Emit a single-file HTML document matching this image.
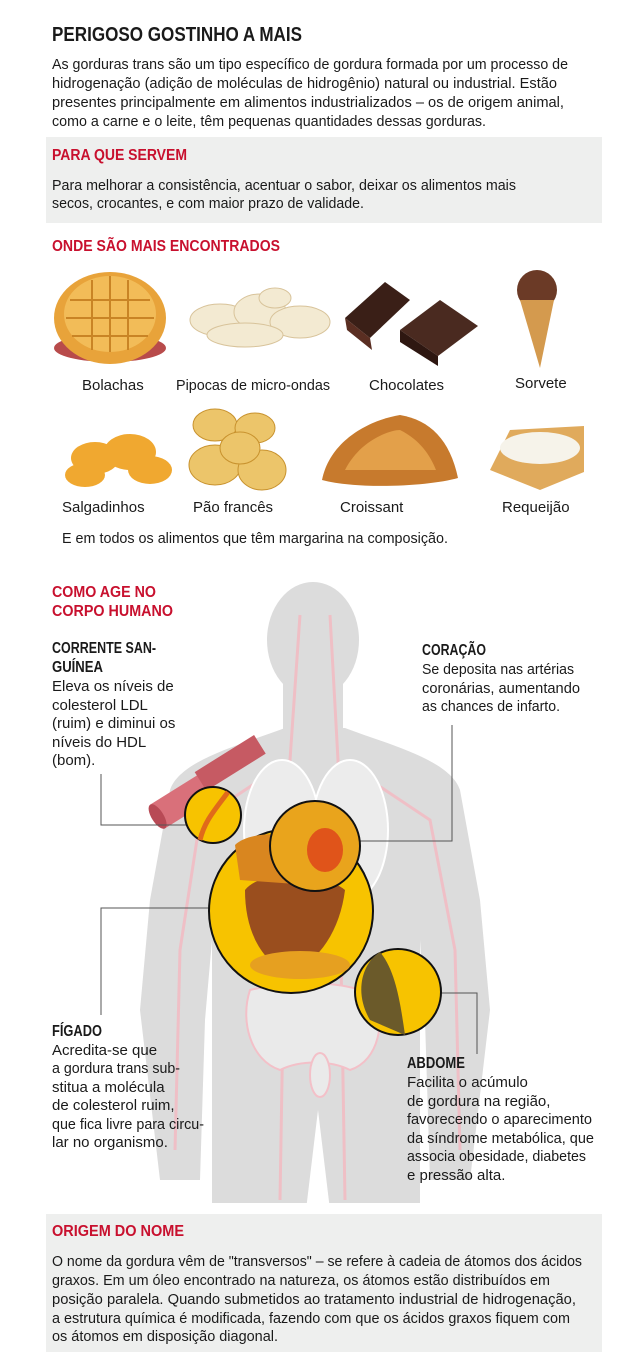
<!DOCTYPE html>
<html><head><meta charset="utf-8">
<style>
html,body{margin:0;padding:0;background:#fff;}
svg{display:block;}
text{font-family:"Liberation Sans Narrow","Liberation Sans",sans-serif;fill:#1a1a1a;}
.t{font-size:15px;}
.h{font-size:16px;font-weight:bold;}
.r{fill:#c8102e;font-size:16px;font-weight:bold;}
</style></head><body>
<svg width="640" height="1368" viewBox="0 0 640 1368" xmlns="http://www.w3.org/2000/svg">
<rect width="640" height="1368" fill="#fff"/>
<!-- header -->
<text x="52" y="41" style="font-size:20px;font-weight:bold" textLength="250" lengthAdjust="spacingAndGlyphs">PERIGOSO GOSTINHO A MAIS</text>
<g class="t">
<text class="t" x="52" y="69" textLength="516" lengthAdjust="spacingAndGlyphs">As gorduras trans são um tipo específico de gordura formada por um processo de</text>
<text class="t" x="52" y="88" textLength="505" lengthAdjust="spacingAndGlyphs">hidrogenação (adição de moléculas de hidrogênio) natural ou industrial. Estão</text>
<text class="t" x="52" y="107" textLength="512" lengthAdjust="spacingAndGlyphs">presentes principalmente em alimentos industrializados – os de origem animal,</text>
<text class="t" x="52" y="126" textLength="434" lengthAdjust="spacingAndGlyphs">como a carne e o leite, têm pequenas quantidades dessas gorduras.</text>
</g>
<rect x="46" y="137" width="556" height="86" fill="#eeefee"/>
<text class="r" x="52" y="160" textLength="135" lengthAdjust="spacingAndGlyphs">PARA QUE SERVEM</text>
<text class="t" x="52" y="190" textLength="464" lengthAdjust="spacingAndGlyphs">Para melhorar a consistência, acentuar o sabor, deixar os alimentos mais</text>
<text class="t" x="52" y="208" textLength="312" lengthAdjust="spacingAndGlyphs">secos, crocantes, e com maior prazo de validade.</text>
<text class="r" x="52" y="251" textLength="228" lengthAdjust="spacingAndGlyphs">ONDE SÃO MAIS ENCONTRADOS</text>

<!-- foods row 1 -->
<g>
<ellipse cx="110" cy="348" rx="56" ry="14" fill="#b84b4b"/>
<ellipse cx="110" cy="318" rx="56" ry="46" fill="#e8a33a"/>
<ellipse cx="110" cy="314" rx="46" ry="38" fill="#f2bc58"/>
<g stroke="#c98425" stroke-width="2"><line x1="70" y1="300" x2="150" y2="300"/><line x1="66" y1="318" x2="154" y2="318"/><line x1="72" y1="336" x2="148" y2="336"/><line x1="92" y1="280" x2="92" y2="350"/><line x1="110" y1="276" x2="110" y2="352"/><line x1="128" y1="280" x2="128" y2="350"/></g>
</g>
<g fill="#f3ead2" stroke="#d8c39a" stroke-width="1">
<ellipse cx="220" cy="320" rx="30" ry="16"/><ellipse cx="260" cy="312" rx="26" ry="18"/><ellipse cx="300" cy="322" rx="30" ry="16"/><ellipse cx="245" cy="335" rx="38" ry="12"/><ellipse cx="275" cy="298" rx="16" ry="10"/>
</g>
<g>
<polygon points="345,318 385,282 410,300 370,338" fill="#3a1f17"/>
<polygon points="345,318 370,338 372,350 347,330" fill="#5a2e22"/>
<polygon points="400,330 440,300 478,326 438,356" fill="#4a2a20"/>
<polygon points="400,330 438,356 438,366 400,342" fill="#2e1711"/>
</g>
<g>
<circle cx="537" cy="290" r="20" fill="#6b3a26"/>
<polygon points="520,300 554,300 540,368" fill="#d49a4e"/>
</g>
<text class="t" x="82" y="390">Bolachas</text>
<text class="t" x="176" y="390" textLength="154" lengthAdjust="spacingAndGlyphs">Pipocas de micro-ondas</text>
<text class="t" x="369" y="390">Chocolates</text>
<text class="t" x="515" y="388">Sorvete</text>

<!-- foods row 2 -->
<g fill="#f0a830">
<ellipse cx="95" cy="458" rx="24" ry="16"/><ellipse cx="130" cy="452" rx="26" ry="18"/><ellipse cx="150" cy="470" rx="22" ry="14"/><ellipse cx="85" cy="475" rx="20" ry="12"/>
</g>
<g fill="#ecc56a" stroke="#c8922e">
<ellipse cx="215" cy="425" rx="22" ry="16"/><ellipse cx="255" cy="428" rx="20" ry="15"/><ellipse cx="215" cy="465" rx="26" ry="20"/><ellipse cx="262" cy="470" rx="24" ry="20"/><ellipse cx="240" cy="448" rx="20" ry="16"/>
</g>
<path d="M322,480 C330,440 370,420 400,415 C430,420 450,440 458,478 C430,486 360,490 322,480Z" fill="#c77a2d"/>
<path d="M345,470 C360,440 390,430 400,430 C420,440 430,455 436,470Z" fill="#e3a04a"/>
<polygon points="490,470 510,430 584,426 584,472 540,490" fill="#e0aa5c"/>
<ellipse cx="540" cy="448" rx="40" ry="16" fill="#f6f3ea"/>
<text class="t" x="62" y="512">Salgadinhos</text>
<text class="t" x="193" y="512">Pão francês</text>
<text class="t" x="340" y="512">Croissant</text>
<text class="t" x="502" y="512">Requeijão</text>
<text class="t" x="62" y="543" textLength="386" lengthAdjust="spacingAndGlyphs">E em todos os alimentos que têm margarina na composição.</text>

<!-- body silhouette -->
<g fill="#dcdcdc">
<ellipse cx="313" cy="640" rx="46" ry="58"/>
<rect x="283" y="680" width="60" height="60"/>
<path d="M170,790 C180,760 240,745 285,728 L345,728 C390,745 450,760 460,790 L480,900 L490,1010 L470,1180 L430,1180 L425,1020 L420,940 L420,1210 L330,1210 L318,1110 L306,1210 L212,1210 L212,940 L205,1020 L200,1180 L160,1180 L140,1010 L150,900 Z"/>
</g>
<rect x="0" y="1203" width="640" height="10" fill="#fff"/>
<g stroke="#f4b8c0" stroke-width="3" fill="none" opacity="0.8">
<path d="M300,615 L290,760 L285,900 L280,1200"/><path d="M330,615 L338,760 L340,900 L345,1200"/>
<path d="M260,780 L200,820 L180,950 L175,1150"/><path d="M370,780 L430,820 L455,950 L460,1150"/>
</g>
<g fill="#ececec" stroke="#fff" stroke-width="2">
<ellipse cx="282" cy="830" rx="38" ry="70"/><ellipse cx="350" cy="830" rx="38" ry="70"/>
</g>
<g fill="#eaeaea" stroke="#f3c0c8" stroke-width="2">
<path d="M250,990 C240,1020 250,1060 280,1070 C300,1060 330,1060 350,1070 C380,1060 385,1020 375,995 C340,980 290,980 250,990Z"/>
<ellipse cx="320" cy="1075" rx="10" ry="22"/>
</g>
<!-- tube -->
<g transform="rotate(-32 200 790)">
<rect x="150" y="776" width="60" height="28" fill="#d9707a"/>
<rect x="205" y="772" width="70" height="22" fill="#c65a63"/>
<ellipse cx="150" cy="790" rx="6" ry="14" fill="#b84a55"/>
</g>
<!-- connector lines -->
<g stroke="#555" stroke-width="1" fill="none">
<polyline points="101,774 101,825 186,825"/>
<polyline points="452,725 452,841 360,841"/>
<polyline points="101,1015 101,908 209,908"/>
<polyline points="441,993 477,993 477,1054"/>
</g>
<!-- circles -->
<circle cx="213" cy="815" r="28" fill="#f7c300" stroke="#111" stroke-width="2"/>
<path d="M200,840 C205,820 215,810 228,792" stroke="#e06a1a" stroke-width="5" fill="none"/>
<circle cx="291" cy="911" r="82" fill="#f7c300" stroke="#111" stroke-width="2"/>
<path d="M245,890 C260,870 320,870 345,890 C340,930 320,960 290,975 C260,960 245,930 245,890Z" fill="#9a4e1e"/>
<path d="M235,845 C250,830 300,830 320,850 L310,885 L240,880Z" fill="#d9861f"/>
<ellipse cx="300" cy="965" rx="50" ry="14" fill="#e6a020"/>
<circle cx="315" cy="846" r="45" fill="#e9a41c" stroke="#111" stroke-width="2"/>
<ellipse cx="325" cy="850" rx="18" ry="22" fill="#e0541a"/>
<circle cx="398" cy="992" r="43" fill="#f7c300" stroke="#111" stroke-width="2"/>
<path d="M380,952 C395,970 400,1000 405,1035 L370,1020 C355,995 360,965 380,952Z" fill="#6b5a2a"/>

<!-- body labels -->
<text class="r" x="52" y="597" textLength="104" lengthAdjust="spacingAndGlyphs">COMO AGE NO</text>
<text class="r" x="52" y="616" textLength="121" lengthAdjust="spacingAndGlyphs">CORPO HUMANO</text>
<text class="h" x="52" y="653" textLength="104" lengthAdjust="spacingAndGlyphs">CORRENTE SAN-</text>
<text class="h" x="52" y="672" textLength="51" lengthAdjust="spacingAndGlyphs">GUÍNEA</text>
<text class="t" x="52" y="691">Eleva os níveis de</text>
<text class="t" x="52" y="710">colesterol LDL</text>
<text class="t" x="52" y="728">(ruim) e diminui os</text>
<text class="t" x="52" y="747">níveis do HDL</text>
<text class="t" x="52" y="765">(bom).</text>
<text class="h" x="422" y="655" textLength="64" lengthAdjust="spacingAndGlyphs">CORAÇÃO</text>
<text class="t" x="422" y="674" textLength="152" lengthAdjust="spacingAndGlyphs">Se deposita nas artérias</text>
<text class="t" x="422" y="693" textLength="158" lengthAdjust="spacingAndGlyphs">coronárias, aumentando</text>
<text class="t" x="422" y="711" textLength="138" lengthAdjust="spacingAndGlyphs">as chances de infarto.</text>
<text class="h" x="52" y="1036" textLength="50" lengthAdjust="spacingAndGlyphs">FÍGADO</text>
<text class="t" x="52" y="1055">Acredita-se que</text>
<text class="t" x="52" y="1073" textLength="128" lengthAdjust="spacingAndGlyphs">a gordura trans sub-</text>
<text class="t" x="52" y="1092">stitua a molécula</text>
<text class="t" x="52" y="1110">de colesterol ruim,</text>
<text class="t" x="52" y="1129" textLength="152" lengthAdjust="spacingAndGlyphs">que fica livre para circu-</text>
<text class="t" x="52" y="1147">lar no organismo.</text>
<text class="h" x="407" y="1068" textLength="58" lengthAdjust="spacingAndGlyphs">ABDOME</text>
<text class="t" x="407" y="1087">Facilita o acúmulo</text>
<text class="t" x="407" y="1106">de gordura na região,</text>
<text class="t" x="407" y="1124" textLength="185" lengthAdjust="spacingAndGlyphs">favorecendo o aparecimento</text>
<text class="t" x="407" y="1143" textLength="187" lengthAdjust="spacingAndGlyphs">da síndrome metabólica, que</text>
<text class="t" x="407" y="1161" textLength="179" lengthAdjust="spacingAndGlyphs">associa obesidade, diabetes</text>
<text class="t" x="407" y="1180">e pressão alta.</text>

<!-- bottom box -->
<rect x="46" y="1214" width="556" height="138" fill="#eeefee"/>
<text class="r" x="52" y="1236" textLength="132" lengthAdjust="spacingAndGlyphs">ORIGEM DO NOME</text>
<text class="t" x="52" y="1266" textLength="530" lengthAdjust="spacingAndGlyphs">O nome da gordura vêm de "transversos" – se refere à cadeia de átomos dos ácidos</text>
<text class="t" x="52" y="1285" textLength="498" lengthAdjust="spacingAndGlyphs">graxos. Em um óleo encontrado na natureza, os átomos estão distribuídos em</text>
<text class="t" x="52" y="1304" textLength="524" lengthAdjust="spacingAndGlyphs">posição paralela. Quando submetidos ao tratamento industrial de hidrogenação,</text>
<text class="t" x="52" y="1323" textLength="518" lengthAdjust="spacingAndGlyphs">a estrutura química é modificada, fazendo com que os ácidos graxos fiquem com</text>
<text class="t" x="52" y="1341" textLength="226" lengthAdjust="spacingAndGlyphs">os átomos em disposição diagonal.</text>
</svg>
</body></html>
